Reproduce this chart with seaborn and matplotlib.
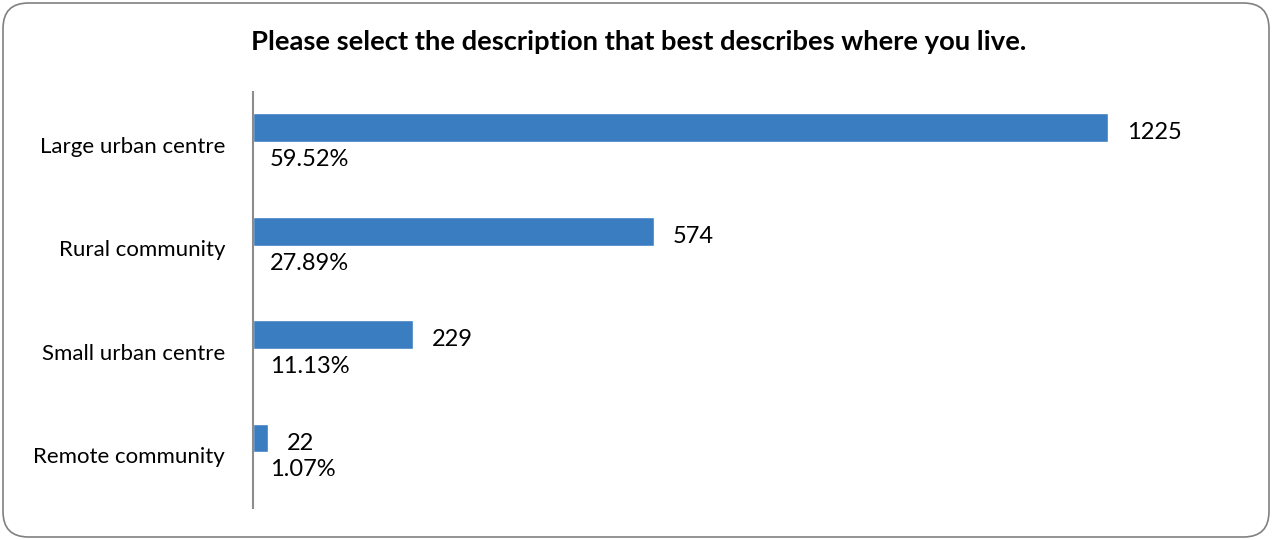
import matplotlib.pyplot as plt
import seaborn as sns
import pandas as pd
import numpy as np
from matplotlib.patches import FancyBboxPatch

categories = ["Large urban centre", "Rural community", "Small urban centre", "Remote community"]
counts = [1225, 574, 229, 22]
percents = ["59.52%", "27.89%", "11.13%", "1.07%"]

sns.set_theme(style="white")
plt.rcParams["font.family"] = ["Lato", "DejaVu Sans"]

df = pd.DataFrame({"category": categories, "count": counts})

fig = plt.figure(figsize=(12.73, 5.4), dpi=100)
ax = fig.add_axes([253 / 1273, 32 / 540, (1250 - 253) / 1273, (448 - 32) / 540])

sns.barplot(data=df, y="category", x="count", color="#3A7DC1", width=0.28,
            orient="h", ax=ax, saturation=1)

px_per_unit = (1108 - 253) / 1225
ax.set_xlim(0, (1250 - 253) / px_per_unit)
ax.set_ylim(3.677, -0.348)
# category labels sit in the middle of each band, bars a bit above it
ax.set_yticks(np.arange(len(categories)) + 0.163, categories)

for i, (c, p) in enumerate(zip(counts, percents)):
    ax.annotate(str(c), xy=(c, i), xytext=(13.5, -3.6), textcoords="offset points",
                ha="left", va="center", fontsize=17, color="black")
    ax.annotate(p, xy=(0, i), xytext=(12, -23), textcoords="offset points",
                ha="left", va="center", fontsize=17, color="black")

ax.set_xlabel("")
ax.set_ylabel("")
ax.set_xticks([])
ax.tick_params(axis="y", length=0, pad=20, labelsize=16, labelcolor="black")
for side in ["top", "right", "bottom"]:
    ax.spines[side].set_visible(False)
ax.spines["left"].set_color("#8c8c8c")
ax.spines["left"].set_linewidth(1.5)

fig.text(639 / 1273, 1 - 42 / 540,
         "Please select the description that best describes where you live.",
         ha="center", va="center", fontsize=19.7, fontweight="bold", color="black")

# rounded outer frame, same corner radius in x and y
border = FancyBboxPatch((3 / 1273, 3 / 540), 1266 / 1273, 534 / 540,
                        boxstyle="round,pad=0,rounding_size=0.02",
                        mutation_aspect=1273 / 540,
                        transform=fig.transFigure, fill=False,
                        edgecolor="#808080", linewidth=1.2)
fig.patches.append(border)

fig.savefig("out.png", dpi=100)
